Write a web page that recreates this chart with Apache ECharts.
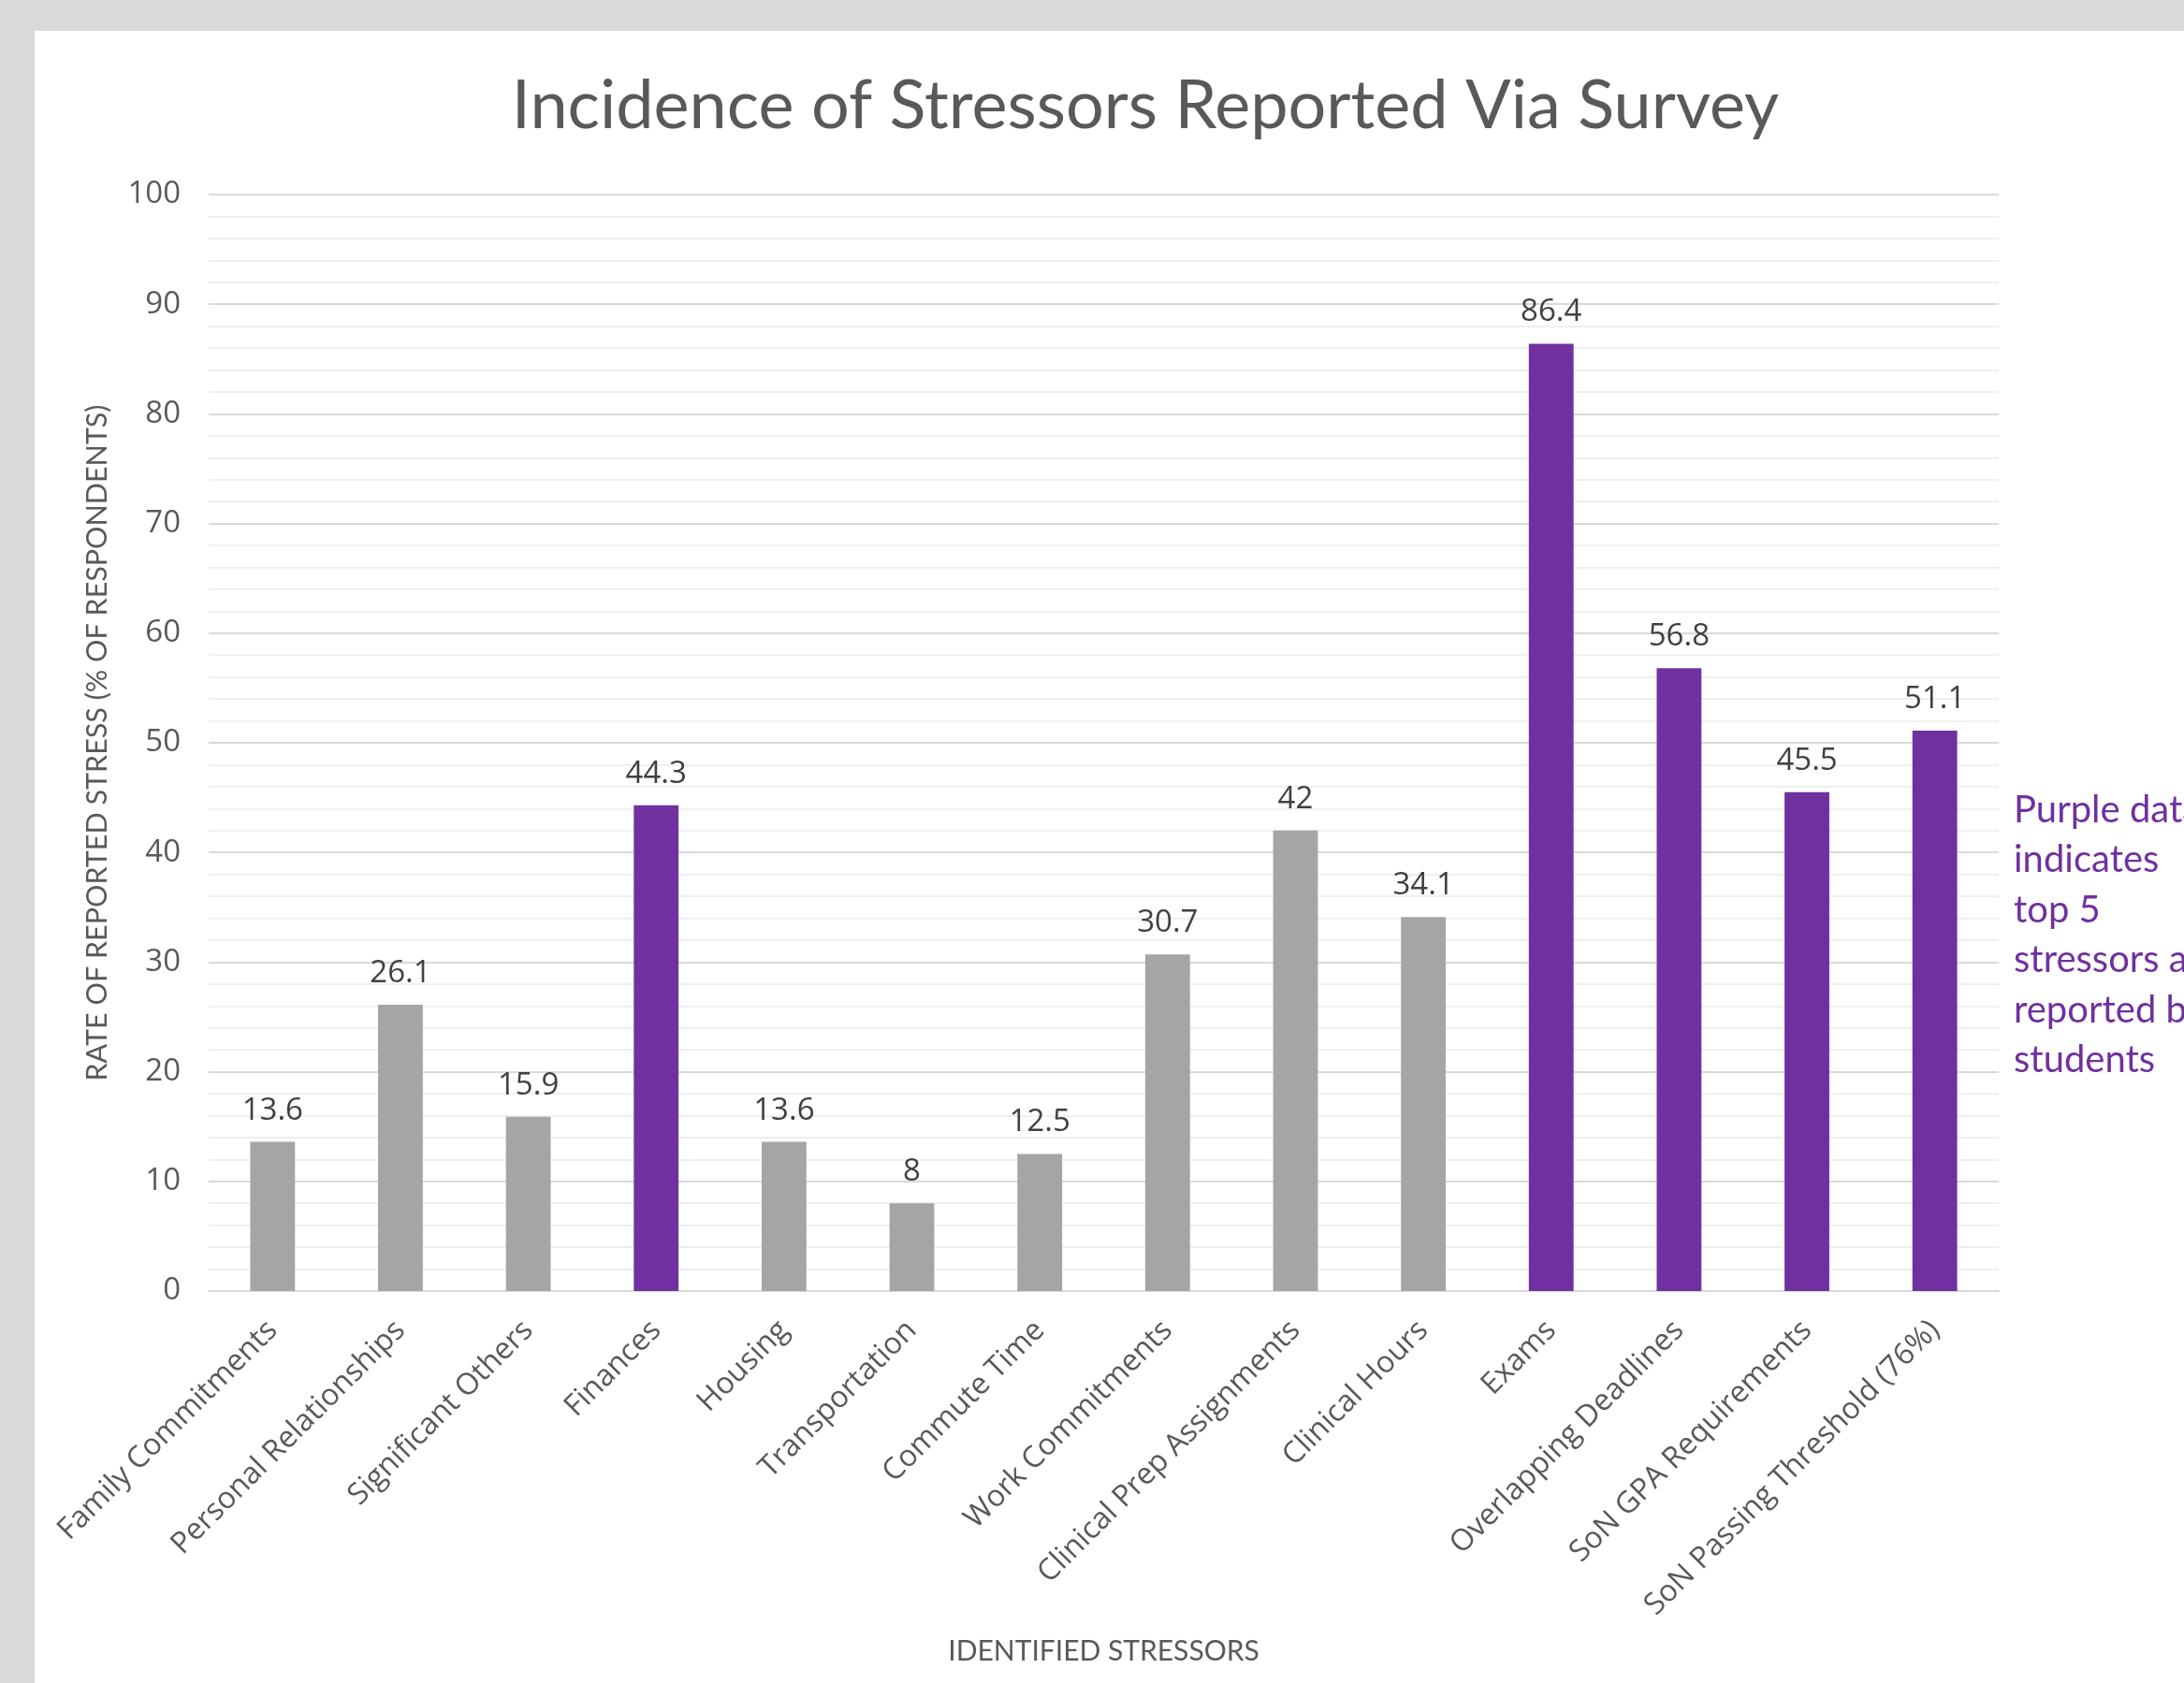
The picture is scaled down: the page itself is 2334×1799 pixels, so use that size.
<!DOCTYPE html>
<html>
<head>
<meta charset="utf-8">
<script src="https://cdn.jsdelivr.net/npm/echarts@6/dist/echarts.min.js"></script>
<style>
html,body{margin:0;padding:0;background:#d9d9d9;}
#wrap{position:absolute;left:37px;top:33px;width:2297px;height:1766px;background:#ffffff;}
#chart{position:absolute;left:-37px;top:-33px;width:2334px;height:1799px;}
</style>
</head>
<body>
<div id="wrap"><div id="chart"></div></div>
<script>
const categories = ["Family Commitments","Personal Relationships","Significant Others","Finances","Housing","Transportation","Commute Time","Work Commitments","Clinical Prep Assignments","Clinical Hours","Exams","Overlapping Deadlines","SoN GPA Requirements","SoN Passing Threshold (76%)"];
const values = [13.6, 26.1, 15.9, 44.3, 13.6, 8, 12.5, 30.7, 42, 34.1, 86.4, 56.8, 45.5, 51.1];
const topFive = [false,false,false,true,false,false,false,false,false,false,true,true,true,true];
const titleText = "Incidence of Stressors Reported Via Survey";
const yAxisTitle = "RATE OF REPORTED STRESS (% OF RESPONDENTS)";
const xAxisTitle = "IDENTIFIED STRESSORS";
const noteLines = ["Purple data","indicates","top 5","stressors as","reported by","students"];

const chart = echarts.init(document.getElementById('chart'), null, {renderer:'canvas'});
const option = {
  backgroundColor: 'transparent',
  animation: false,
  title: {
    text: titleText,
    left: 1219, top: 73, textAlign: 'center',
    textStyle: {fontFamily: 'Lato', fontWeight: 'normal', fontSize: 72, color: '#595959'}
  },
  grid: {left: 223, right: 198, top: 208, bottom: 419, containLabel: false},
  xAxis: {
    type: 'category',
    data: categories,
    name: xAxisTitle,
    nameLocation: 'middle',
    nameGap: 370,
    nameTextStyle: {fontFamily: 'Lato', fontSize: 30, color: '#595959'},
    axisLine: {show: true, lineStyle: {color: '#d9d9d9', width: 2}},
    axisTick: {show: false},
    axisLabel: {rotate: 45, interval: 0, margin: 37, fontFamily: 'Open Sans', fontSize: 32, color: '#595959'}
  },
  yAxis: {
    type: 'value',
    min: 0, max: 100, interval: 10,
    name: yAxisTitle,
    nameLocation: 'middle',
    nameGap: 103,
    nameTextStyle: {fontFamily: 'Lato', fontSize: 30.5, color: '#595959'},
    axisLine: {show: false},
    axisTick: {show: false},
    axisLabel: {margin: 30, fontFamily: 'Open Sans', fontSize: 33, color: '#595959'},
    splitLine: {show: true, lineStyle: {color: '#d9d9d9', width: 2}},
    minorTick: {show: false, splitNumber: 5},
    minorSplitLine: {show: true, lineStyle: {color: '#efefef', width: 2}}
  },
  series: [{
    type: 'bar',
    barWidth: '35%',
    data: values.map((v, i) => ({value: v, itemStyle: {color: topFive[i] ? '#7030a0' : '#a5a5a5'}})),
    label: {show: true, position: 'top', distance: 17, fontFamily: 'Open Sans', fontSize: 33, color: '#404040'}
  }],
  graphic: [{
    type: 'text',
    left: 2152, top: 839,
    style: {text: noteLines.join('\n'), fontFamily: 'Lato', fontSize: 40, lineHeight: 53.5, fill: '#7030a0'}
  }]
};
chart.setOption(option);
</script>
</body>
</html>
